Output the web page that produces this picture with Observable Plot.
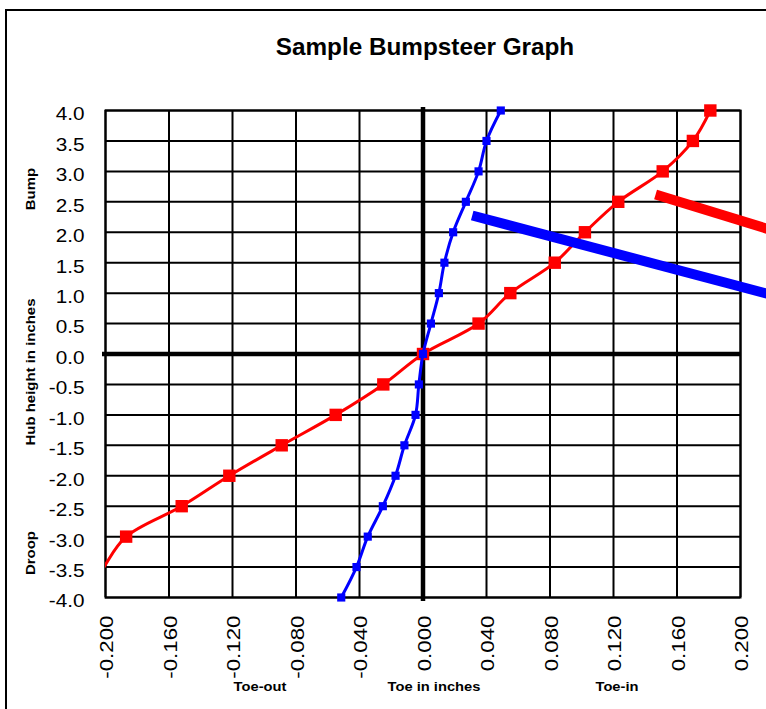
<!DOCTYPE html>
<html><head><meta charset="utf-8">
<script src="https://cdn.jsdelivr.net/npm/d3@7"></script>
<script src="https://cdn.jsdelivr.net/npm/@observablehq/plot@0.6"></script>
<style>
html,body{margin:0;padding:0;overflow:hidden;background:#fff;width:766px;height:709px}
#wrap{position:relative;width:766px;height:709px;font-family:"Liberation Sans",Arial,sans-serif;color:#000}
#border{position:absolute;left:5px;top:9px;width:761px;height:700px;border-left:2px solid #000;border-top:2px solid #000;box-sizing:border-box}
#chart{position:absolute;left:0;top:0}
.lbl{position:absolute;white-space:nowrap;line-height:1;font-weight:bold}
</style></head>
<body>
<div id="wrap">
  <div id="border"></div>
  <div id="chart"></div>
</div>
<script>
// Data
const hub = [4.0, 3.5, 3.0, 2.5, 2.0, 1.5, 1.0, 0.5, 0.0, -0.5, -1.0, -1.5, -2.0, -2.5, -3.0, -3.5, -4.0];
const toeRed  = [0.181, 0.170, 0.151, 0.123, 0.102, 0.083, 0.055, 0.035, 0.000, -0.025, -0.055, -0.089, -0.122, -0.152, -0.187, -0.201, -0.212];
const toeBlue = [0.049, 0.040, 0.035, 0.027, 0.019, 0.0135, 0.010, 0.005, 0.000, -0.0026, -0.0047, -0.0117, -0.0173, -0.0253, -0.0348, -0.0419, -0.0515];
const xTicks = [-0.2, -0.16, -0.12, -0.08, -0.04, 0, 0.04, 0.08, 0.12, 0.16, 0.2];
const yTicks = [4, 3.5, 3, 2.5, 2, 1.5, 1, 0.5, 0, -0.5, -1, -1.5, -2, -2.5, -3, -3.5, -4];
const titleText = "Sample Bumpsteer Graph";
const xTitles = ["Toe-out", "Toe in inches", "Toe-in"];
const yTitles = ["Bump", "Hub height in inches", "Droop"];
// pointer strokes (partially visible legend keys)
const pointerSeries = ["red", "red", "blue", "blue"];
const pointerX = [0.1465, 0.2252, 0.031, 0.2252];
const pointerY = [2.62, 1.99, 2.275, 0.932];

const red = hub.map((h, i) => ({x: toeRed[i], y: h}));
const blue = hub.map((h, i) => ({x: toeBlue[i], y: h}));
const pointers = pointerSeries.map((s, i) => ({s, x: pointerX[i], y: pointerY[i]}));
const inRange = d => d.x >= -0.2 && d.x <= 0.2 && d.y >= -4 && d.y <= 4;

const chart = Plot.plot({
  width: 766, height: 709,
  marginLeft: 105, marginRight: 26, marginTop: 110, marginBottom: 112,
  x: {domain: [-0.2, 0.2]},
  y: {domain: [-4, 4]},
  style: {fontFamily: "'Liberation Sans', Arial, sans-serif", color: "#000", background: "transparent", overflow: "visible"},
  marks: [
    Plot.ruleX(xTicks, {stroke: "#000", strokeWidth: 2}),
    Plot.ruleY(yTicks, {stroke: "#000", strokeWidth: 2}),
    Plot.frame({stroke: "#000", strokeWidth: 2}),
    Plot.ruleX([0], {stroke: "#000", strokeWidth: 4.5, insetTop: -3, insetBottom: -4}),
    Plot.ruleY([0], {stroke: "#000", strokeWidth: 4.5, insetLeft: -3}),
    Plot.axisY(yTicks, {tickSize: 0, tickPadding: 21, tickFormat: d => d.toFixed(1), fontSize: 18.5, dy: 4, label: null}),
    Plot.axisX(xTicks, {tickSize: 0, tickPadding: 18, tickRotate: -90, tickFormat: d => d.toFixed(3), fontSize: 18, dx: 2, label: null}),
    Plot.line(red, {x: "x", y: "y", stroke: "#ff0000", strokeWidth: 3, curve: "catmull-rom", clip: true}),
    Plot.dot(red, {filter: inRange, x: "x", y: "y", symbol: "square", r: 7, fill: "#ff0000", stroke: "none"}),
    Plot.line(blue, {x: "x", y: "y", stroke: "#0000ff", strokeWidth: 3, curve: "catmull-rom", clip: true}),
    Plot.dot(blue, {filter: inRange, x: "x", y: "y", symbol: "square", r: 4.6, fill: "#0000ff", stroke: "none"}),
    Plot.line(pointers, {x: "x", y: "y", z: "s", stroke: d => d.s === "red" ? "#ff0000" : "#0000ff", strokeWidth: 10, strokeLinecap: "butt"})
  ]
});
document.getElementById("chart").appendChild(chart);

// Stretch tick labels horizontally (along text direction) like the original
function stretch(sel, s) {
  d3.select(chart).selectAll(sel).each(function() {
    const t = d3.select(this);
    let tr = t.attr("transform");
    if (!tr) {
      const x = +t.attr("x") || 0, y = +t.attr("y") || 0;
      t.attr("x", null).attr("y", null);
      tr = `translate(${x},${y})`;
    }
    t.attr("transform", tr + ` scale(${s},1)`);
  });
}
stretch('g[aria-label="y-axis tick label"] text', 1.12);
stretch('g[aria-label="x-axis tick label"] text', 1.24);

// Titles
const wrap = document.getElementById("wrap");
function addLabel(text, cx, cy, size, rot, sx) {
  const d = document.createElement("div");
  d.className = "lbl";
  d.textContent = text;
  d.style.fontSize = size + "px";
  d.style.left = cx + "px";
  d.style.top = cy + "px";
  d.style.transform = `translate(-50%,-50%)${rot ? ` rotate(${rot}deg)` : ""} scaleX(${sx})`;
  wrap.appendChild(d);
}
addLabel(titleText, 425, 47, 24.3, 0, 1.0);
[260, 434, 617].forEach((cx, i) => addLabel(xTitles[i], cx, 686, 13, 0, 1.13));
[189, 372, 553].forEach((cy, i) => addLabel(yTitles[i], 30, cy, 13, -90, 1.15));
</script>
</body></html>
